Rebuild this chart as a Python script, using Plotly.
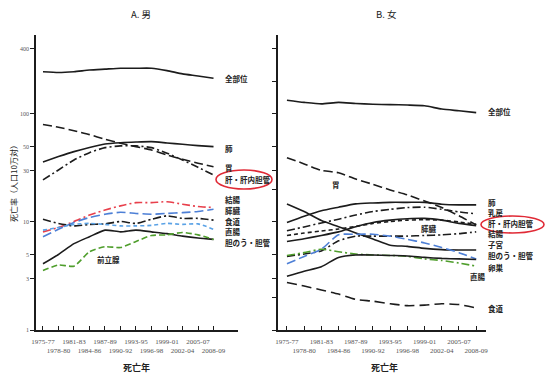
import plotly.graph_objects as go

# ---- data -------------------------------------------------------------
periods = ["1975-77", "1978-80", "1981-83", "1984-86", "1987-89", "1990-92",
           "1993-95", "1996-98", "1999-01", "2002-04", "2005-07", "2008-09"]

# A. males (age-adjusted death rate per 100,000)
m_all_sites   = [246, 242, 246, 255, 260, 265, 265, 265, 252, 235, 225, 214]
m_lung        = [36.0, 40.3, 44.8, 49.0, 52.7, 54.2, 55.0, 55.4, 53.9, 52.4, 50.9, 49.8]
m_stomach     = [80.0, 75.3, 70.0, 64.4, 58.3, 53.6, 49.8, 46.4, 41.7, 38.0, 35.0, 32.5]
m_liver       = [24.5, 30.3, 37.5, 43.8, 48.8, 50.6, 50.6, 48.8, 43.3, 37.5, 32.1, 27.2]
m_colon       = [8.1, 8.9, 10.1, 11.6, 12.9, 14.1, 15.1, 15.1, 15.4, 14.6, 13.9, 13.6]
m_pancreas    = [7.3, 8.55, 9.9, 11.0, 11.8, 12.3, 12.0, 11.8, 12.0, 12.2, 12.5, 13.1]
m_esophagus   = [10.6, 9.7, 9.2, 9.5, 9.6, 10.1, 9.7, 10.6, 11.4, 10.8, 10.8, 10.4]
m_rectum      = [8.4, 8.9, 9.5, 9.7, 9.5, 9.2, 9.2, 9.3, 9.7, 9.5, 9.6, 8.55]
m_gallbladder = [4.1, 5.0, 6.3, 7.3, 8.4, 8.1, 8.4, 8.1, 7.8, 7.4, 7.1, 6.9]
m_prostate    = [3.55, 4.0, 3.9, 5.3, 5.9, 5.8, 6.6, 7.5, 7.6, 8.0, 7.6, 6.9]

# B. females
f_all_sites   = [134, 128, 124, 128, 125, 123, 122, 121, 119, 111, 107, 103]
f_stomach     = [39.4, 34.5, 30.0, 28.6, 25.0, 22.3, 19.8, 17.8, 15.6, 13.6, 11.4, 9.4]
f_lung        = [9.9, 11.3, 12.7, 13.7, 14.7, 15.0, 15.2, 15.2, 15.2, 14.6, 14.4, 14.4]
f_breast      = [8.3, 9.0, 9.8, 10.6, 11.6, 12.5, 13.1, 13.6, 13.7, 13.1, 12.4, 11.9]
f_liver       = [7.5, 7.9, 8.25, 8.6, 9.1, 9.7, 10.1, 10.4, 10.5, 10.4, 10.0, 9.5]
f_colon       = [6.6, 7.0, 7.5, 8.1, 9.05, 9.9, 10.4, 10.7, 10.8, 10.4, 9.7, 9.25]
f_uterus      = [14.7, 12.5, 10.3, 9.05, 7.9, 6.96, 6.1, 5.95, 5.7, 5.55, 5.5, 5.5]
f_pancreas    = [4.8, 5.05, 5.4, 6.7, 7.4, 7.4, 7.4, 7.4, 7.5, 7.6, 7.8, 8.1]
f_gallbladder = [4.1, 4.8, 5.6, 7.6, 7.7, 7.7, 7.4, 6.9, 6.4, 5.8, 5.2, 4.55]
f_rectum      = [4.9, 5.2, 5.6, 5.3, 5.05, 4.95, 4.9, 4.8, 4.55, 4.4, 4.17, 3.9]
f_ovary       = [3.15, 3.5, 3.85, 4.7, 4.95, 4.95, 4.9, 4.85, 4.7, 4.6, 4.55, 4.5]
f_esophagus   = [2.75, 2.55, 2.35, 2.15, 1.92, 1.85, 1.75, 1.68, 1.70, 1.75, 1.72, 1.6]

male_ticks = [1, 3, 5, 10, 30, 50, 100, 400]
female_ticks = [1, 2, 3, 5, 10, 20, 30, 50, 100, 200, 400]

# ---- styling ----------------------------------------------------------
W, H = 546, 374
BLACK = "#1c1c1c"
RED = "#e8404c"
BLUE = "#4d7fd6"
LBLUE = "#5aa2e6"
GREEN = "#4f9e2c"
LONG = "9px,4px"
DASHDOT = "8px,3px,2px,3px"
SHORT = "4px,3px"
JP = "Noto Sans CJK JP"
SERIF = "Liberation Serif"


def px(x, y):
    return x / W, 1 - y / H


xs = list(range(len(periods)))
fig = go.Figure()


def add(vals, name, color, dash, axis, width=1.6):
    fig.add_trace(go.Scatter(
        x=xs, y=vals, name=name, mode="lines",
        line=dict(color=color, width=width, dash=dash,
                  shape="spline", smoothing=0.6),
        xaxis="x" if axis == 1 else "x2",
        yaxis="y" if axis == 1 else "y2",
        showlegend=False, hoverinfo="name+y"))


add(m_all_sites, "全部位", BLACK, "solid", 1)
add(m_lung, "肺", BLACK, "solid", 1)
add(m_stomach, "胃", BLACK, LONG, 1)
add(m_liver, "肝・肝内胆管", BLACK, DASHDOT, 1)
add(m_colon, "結腸", RED, DASHDOT, 1)
add(m_pancreas, "膵臓", BLUE, LONG, 1)
add(m_esophagus, "食道", BLACK, DASHDOT, 1)
add(m_rectum, "直腸", LBLUE, SHORT, 1)
add(m_gallbladder, "胆のう・胆管", BLACK, "solid", 1)
add(m_prostate, "前立腺", GREEN, "6px,3px", 1)

add(f_all_sites, "全部位", BLACK, "solid", 2)
add(f_stomach, "胃", BLACK, LONG, 2)
add(f_lung, "肺", BLACK, "solid", 2)
add(f_breast, "乳房", BLACK, DASHDOT, 2)
add(f_liver, "肝・肝内胆管", BLACK, SHORT, 2)
add(f_colon, "結腸", BLACK, "solid", 2)
add(f_uterus, "子宮", BLACK, "solid", 2)
add(f_pancreas, "膵臓", BLACK, DASHDOT, 2)
add(f_gallbladder, "胆のう・胆管", BLUE, LONG, 2)
add(f_rectum, "直腸", GREEN, DASHDOT, 2)
add(f_ovary, "卵巣", BLACK, "solid", 2)
add(f_esophagus, "食道", BLACK, "10px,5px", 2)

# two-row period labels under the x axes
ticktext = [p if i % 2 == 0 else "<br>" + p for i, p in enumerate(periods)]

ytop = 2.731  # log10 of the top of the value axis
common_x = dict(tickmode="array", tickvals=xs, ticktext=ticktext,
                tickangle=0, automargin=False, ticklabelstandoff=4,
                showline=True, linecolor=BLACK, linewidth=1.5,
                ticks="inside", ticklen=4, tickcolor=BLACK, tickwidth=1,
                showgrid=False, zeroline=False,
                tickfont=dict(family=SERIF, size=7, color="#555"))
common_y = dict(type="log", range=[0, ytop], showline=True, linecolor=BLACK,
                linewidth=1.5, ticks="outside", ticklen=4, tickcolor=BLACK,
                tickwidth=1, showgrid=False, zeroline=False, automargin=False,
                tickfont=dict(family=SERIF, size=6, color="#555"))

fig.update_layout(
    width=W, height=H, margin=dict(l=0, r=0, t=0, b=0),
    paper_bgcolor="white", plot_bgcolor="white",
    xaxis=dict(domain=[36 / W, 238 / W], range=[-0.45, 12.58],
               anchor="y", **common_x),
    yaxis=dict(domain=[1 - 330 / H, 1 - 35 / H], anchor="x",
               tickvals=male_ticks, ticktext=[str(v) for v in male_ticks],
               **common_y),
    xaxis2=dict(domain=[278 / W, 486 / W], range=[-0.52, 11.57],
                anchor="y2", **common_x),
    yaxis2=dict(domain=[1 - 330 / H, 1 - 35 / H], anchor="x2",
                tickvals=female_ticks, showticklabels=False, **common_y),
)

ann = []


def text(t, x, y, size=7.5, anchor="left", bold=False, color="#222", angle=0):
    ax, ay = px(x, y)
    ann.append(dict(text="<b>" + t + "</b>" if bold else t,
                    x=ax, y=ay, xref="paper", yref="paper",
                    xanchor=anchor, yanchor="middle", showarrow=False,
                    textangle=angle,
                    font=dict(family=JP, size=size, color=color)))


# panel titles and axis titles
text("A. 男", 141, 14, size=9.5, anchor="center")
text("B. 女", 386, 14, size=9.5, anchor="center")
text("死亡年", 136, 367, size=9, anchor="center", bold=True)
text("死亡年", 384, 367, size=9, anchor="center", bold=True)
text("死亡率（人口10万対）", 14, 182, size=8, anchor="center", angle=-90)

# series labels, males
for t, y in [("全部位", 79), ("肺", 148), ("胃", 167), ("肝・肝内胆管", 179),
             ("結腸", 199), ("膵臓", 210), ("食道", 221), ("直腸", 231),
             ("胆のう・胆管", 242)]:
    text(t, 223, y, bold=True)
text("前立腺", 108, 259, anchor="center", bold=True)

# series labels, females
for t, y in [("全部位", 112), ("肺", 202), ("乳房", 213), ("肝・肝内胆管", 224),
             ("結腸", 234), ("子宮", 245), ("胆のう・胆管", 256), ("卵巣", 267),
             ("食道", 308)]:
    text(t, 486, y, bold=True)
text("胃", 336, 184, anchor="center", bold=True)
text("膵臓", 429, 228, anchor="center", bold=True)
text("直腸", 478, 276, anchor="center", bold=True)

fig.update_layout(annotations=ann)

# red rings around the liver labels
for x0, y0, x1, y1 in [(216, 170, 272, 189), (481, 216, 544, 233)]:
    a0, b0 = px(x0, y1)
    a1, b1 = px(x1, y0)
    fig.add_shape(type="circle", xref="paper", yref="paper",
                  x0=a0, y0=b0, x1=a1, y1=b1,
                  line=dict(color="#e02a36", width=1.6))

fig.write_html("out.html")
